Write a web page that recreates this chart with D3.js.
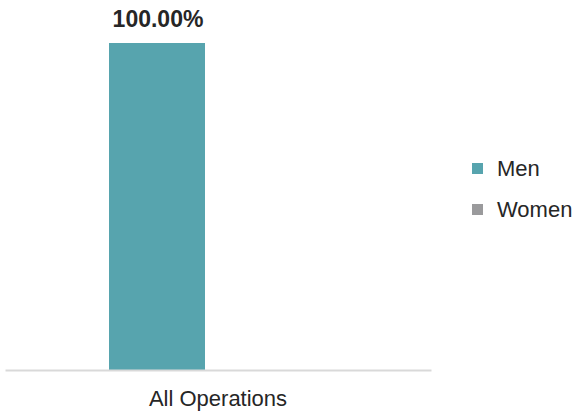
<!DOCTYPE html>
<html><head><meta charset="utf-8">
<script src="https://cdn.jsdelivr.net/npm/d3@7"></script>
<style>body{margin:0;background:#fff}svg{display:block;font-family:"Liberation Sans",Arial,sans-serif}</style>
</head><body>
<svg id="c" width="579" height="416"></svg>
<script>
const categories = ["All Operations"];
const seriesNames = ["Men", "Women"];
const menValues = [1.0];
const womenValues = [0.0];
const colors = ["#57a4ae", "#9a9a9c"];

const svg = d3.select("#c");
const x0 = d3.scaleBand().domain(categories).range([5, 431]);
const x1 = d3.scaleBand().domain(seriesNames).range([104, 296]);
const y = d3.scaleLinear().domain([0, 1]).range([370, 43]);
const color = d3.scaleOrdinal().domain(seriesNames).range(colors);

const data = categories.map((c, i) => ({cat: c, values: [
  {key: "Men", v: menValues[i]}, {key: "Women", v: womenValues[i]}]}));

const g = svg.selectAll("g.cat").data(data).join("g").attr("class", "cat")
  .attr("transform", d => `translate(${x0(d.cat)},0)`);
g.selectAll("rect").data(d => d.values.filter(v => v.v > 0)).join("rect")
  .attr("x", d => x1(d.key)).attr("width", x1.bandwidth())
  .attr("y", d => y(d.v)).attr("height", d => y(0) - y(d.v))
  .attr("fill", d => color(d.key));
g.selectAll("text.val").data(d => d.values.filter(v => v.v > 0)).join("text")
  .attr("class", "val")
  .attr("x", d => x1(d.key) + x1.bandwidth() / 2 + 1).attr("y", d => y(d.v) - 16)
  .attr("text-anchor", "middle").attr("font-weight", "bold").attr("font-size", 23)
  .attr("fill", "#262626").text(d => (d.v * 100).toFixed(2) + "%");

const axis = svg.append("g").attr("transform", "translate(0,370)")
  .call(d3.axisBottom(x0).tickSize(0).tickPadding(20));
axis.select(".domain").attr("stroke", "#d9d9d9").attr("stroke-width", 2);
axis.selectAll("text").attr("font-size", 22).attr("fill", "#262626")
  .attr("dy", "0.71em")
  .attr("font-family", "Liberation Sans, Arial, sans-serif");

const leg = svg.append("g").selectAll("g").data(seriesNames).join("g")
  .attr("transform", (d, i) => `translate(472,${163 + i * 41})`);
leg.append("rect").attr("width", 11).attr("height", 11).attr("fill", d => color(d));
leg.append("text").attr("x", 25).attr("y", 13).attr("font-size", 22).attr("fill", "#262626").text(d => d);
</script>
</body></html>
